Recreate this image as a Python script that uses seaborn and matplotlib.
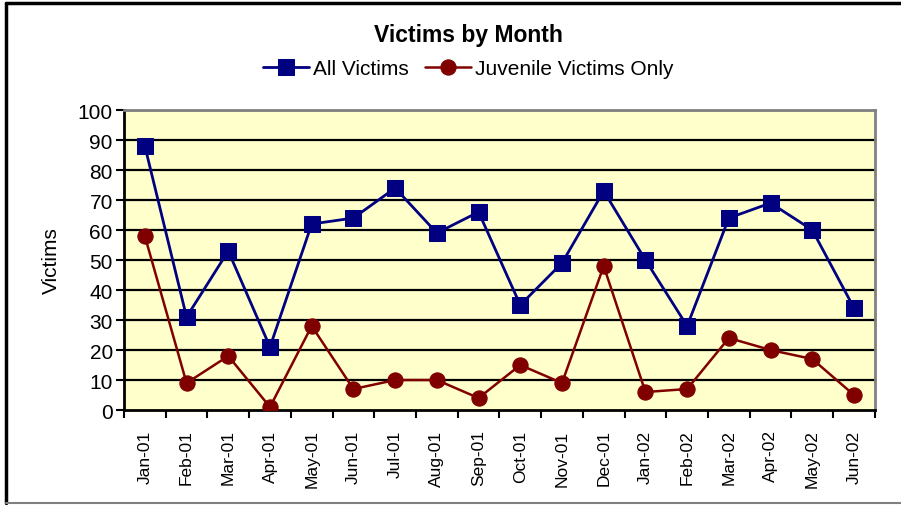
import pandas as pd
import matplotlib
matplotlib.use("Agg")
import matplotlib.pyplot as plt
import seaborn as sns
from matplotlib.lines import Line2D
from matplotlib.ticker import FixedLocator, NullFormatter

# Data
months = ["Jan-01", "Feb-01", "Mar-01", "Apr-01", "May-01", "Jun-01", "Jul-01", "Aug-01", "Sep-01",
          "Oct-01", "Nov-01", "Dec-01", "Jan-02", "Feb-02", "Mar-02", "Apr-02", "May-02", "Jun-02"]
all_victims = [88, 31, 53, 21, 62, 64, 74, 59, 66, 35, 49, 73, 50, 28, 64, 69, 60, 34]
juvenile_victims = [58, 9, 18, 1, 28, 7, 10, 10, 4, 15, 9, 48, 6, 7, 24, 20, 17, 5]
y_ticks = list(range(0, 101, 10))

sns.set_theme(style="white")
plt.rcParams["font.family"] = ["Liberation Sans", "DejaVu Sans"]
plt.rcParams.update({"text.color": "black", "axes.labelcolor": "black",
                     "xtick.color": "black", "ytick.color": "black"})

df = pd.DataFrame({"Month": months, "All Victims": all_victims, "Juvenile Victims Only": juvenile_victims})
df["pos"] = range(len(months))

fig = plt.figure(figsize=(9.01, 5.06), dpi=100)
ax = fig.add_axes([0.1376, 0.1877, 0.8334, 0.5929])
ax.set_facecolor("#FFFFCC")

# Outer frame of the chart: black top and left, gray bottom
fig.add_artist(Line2D([0.007, 1.0], [0.992, 0.992], transform=fig.transFigure, color="black", linewidth=2.5))
fig.add_artist(Line2D([0.007, 0.007], [0.004, 0.992], transform=fig.transFigure, color="black", linewidth=2.5))
fig.add_artist(Line2D([0.007, 1.0], [0.004, 0.004], transform=fig.transFigure, color="#808080", linewidth=1.5))

for y in y_ticks[1:]:
    ax.axhline(y, color="black", linewidth=1.6, zorder=1)

sns.lineplot(data=df, x="pos", y="All Victims", ax=ax, color="#000080", marker="s",
             markersize=11, markeredgecolor="#000080", linewidth=2, label="All Victims", zorder=3)
sns.lineplot(data=df, x="pos", y="Juvenile Victims Only", ax=ax, color="#800000", marker="o",
             markersize=11, markeredgecolor="#800000", linewidth=1.8, label="Juvenile Victims Only", zorder=3)

ax.set_xlim(-0.5, len(months) - 0.5)
ax.set_ylim(0, 100)
ax.set_yticks(y_ticks)
ax.tick_params(axis="y", labelsize=15, length=6, width=1.5, direction="out", left=True, pad=2)

# category labels centred, tick marks on category boundaries
ax.set_xticks(df["pos"])
ax.set_xticklabels(months, rotation=90, fontsize=12.5)
ax.tick_params(axis="x", which="major", length=0, pad=14)
ax.xaxis.set_minor_locator(FixedLocator([i - 0.5 for i in range(len(months) + 1)]))
ax.xaxis.set_minor_formatter(NullFormatter())
ax.tick_params(axis="x", which="minor", length=6, width=1.5, direction="out", bottom=True)

ax.set_xlabel("")
ax.set_ylabel("Victims", fontsize=15, labelpad=12)

for side in ["left", "bottom"]:
    ax.spines[side].set_color("black")
    ax.spines[side].set_linewidth(2)
for side in ["top", "right"]:
    ax.spines[side].set_color("#808080")
    ax.spines[side].set_linewidth(2)

fig.text(0.52, 0.93, "Victims by Month", ha="center", va="center", fontsize=16.5, fontweight="bold")
ax.legend(loc="center", bbox_to_anchor=(0.52, 0.862), bbox_transform=fig.transFigure, ncol=2,
          frameon=False, fontsize=15, handlelength=2.2, handletextpad=0.2, columnspacing=0.8)

fig.savefig("out.png", dpi=100)
